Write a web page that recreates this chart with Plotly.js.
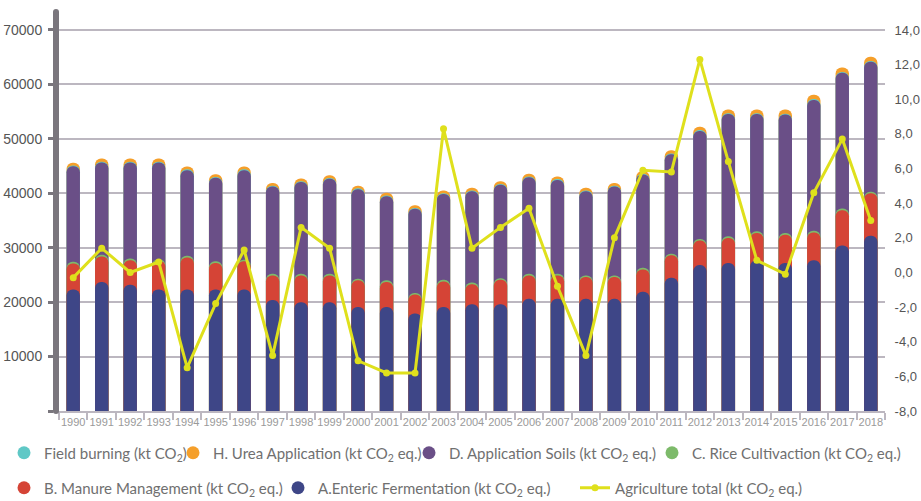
<!DOCTYPE html>
<html>
<head>
<meta charset="utf-8">
<script src="https://cdn.plot.ly/plotly-3.0.1.min.js"></script>
<style>
  html, body { margin: 0; padding: 0; background: #ffffff; }
  #chart { width: 921px; height: 501px; }
</style>
</head>
<body>
<div id="chart"></div>
<script>
// ---- data ----
var years = ["1990","1991","1992","1993","1994","1995","1996","1997","1998","1999",
             "2000","2001","2002","2003","2004","2005","2006","2007","2008","2009",
             "2010","2011","2012","2013","2014","2015","2016","2017","2018"];

var entericA = [22300,23700,23200,22300,22300,22300,22300,20400,20000,20000,
                19100,19100,17900,19100,19600,19600,20600,20600,20600,20600,
                21900,24500,26800,27200,27700,27200,27700,30400,32200];
var manureB  = [4800,4700,4500,5300,5900,4900,5200,4500,4900,4900,
                4900,4600,3500,4700,3700,4500,4300,4300,4000,4000,
                4100,4100,4500,4600,5000,5200,5100,6500,7800];
var riceC    = [300,300,300,300,300,300,300,300,300,300,
                300,300,300,300,300,300,300,300,300,300,
                300,300,300,300,300,300,300,300,300];
var soilsD   = [17550,16950,17650,17750,15750,15350,16450,16050,16850,17450,
                16450,15450,15450,15750,16750,17150,17750,17250,15450,16350,
                17150,18250,19850,22450,21550,21750,24050,24950,23850];
var fieldBurning = [150,150,150,150,150,150,150,150,150,150,
                    150,150,150,150,150,150,150,150,150,150,
                    150,150,150,150,150,150,150,150,150];
var ureaH    = [500,600,600,600,500,500,500,500,500,500,
                500,500,500,500,500,500,500,500,500,500,
                500,600,600,700,700,800,800,800,800];
var agriTotal = [-0.3,1.4,0.0,0.6,-5.5,-1.8,1.3,-4.8,2.6,1.4,
                 -5.1,-5.8,-5.8,8.3,1.4,2.6,3.7,-0.8,-4.8,2.0,
                 5.9,5.8,12.3,6.4,0.7,-0.1,4.6,7.7,3.0];

var leftTicks = [0,10000,20000,30000,40000,50000,60000,70000];
var leftTickText = ["","10000","20000","30000","40000","50000","60000","70000"];
var rightTicks = [-8,-6,-4,-2,0,2,4,6,8,10,12,14];
var rightTickText = ["-8,0","-6,0","-4,0","-2,0","0,0","2,0","4,0","6,0","8,0","10,0","12,0","14,0"];

var names = {
  fb: "Field burning (kt CO<sub>2</sub>)",
  h:  "H. Urea Application (kt CO<sub>2</sub> eq.)",
  d:  "D. Application Soils (kt CO<sub>2</sub> eq.)",
  c:  "C. Rice Cultivaction (kt CO<sub>2</sub> eq.)",
  b:  "B. Manure Management (kt CO<sub>2</sub> eq.)",
  a:  "A.Enteric Fermentation (kt CO<sub>2</sub> eq.)",
  t:  "Agriculture total (kt CO<sub>2</sub> eq.)"
};

var colors = {
  a: "#3e4687", b: "#d54436", c: "#7dba6a", d: "#6a4f87",
  fb: "#5fc8c6", h: "#f59f2a", t: "#dfe01c"
};

// cumulative stack tops (each segment drawn as a rounded pill from the base)
function cum(arrs) {
  return years.map(function (_, i) {
    var s = 0; arrs.forEach(function (a) { s += a[i]; }); return s;
  });
}
var topA = cum([entericA]);
var topB = cum([entericA, manureB]);
var topC = cum([entericA, manureB, riceC]);
var topD = cum([entericA, manureB, riceC, soilsD]);
var topFB = cum([entericA, manureB, riceC, soilsD, fieldBurning]);
var topH = cum([entericA, manureB, riceC, soilsD, fieldBurning, ureaH]);

// each segment on its own overlaid category axis so that every pill gets its rounded top
function barTrace(y, color, xa) {
  return { type: "bar", x: years, y: y, xaxis: xa, yaxis: "y",
           marker: { color: color, line: { width: 0 }, cornerradius: "50%" },
           showlegend: false, hoverinfo: "skip" };
}

var traces = [
  barTrace(topH, colors.h, "x"),
  barTrace(topFB, colors.fb, "x2"),
  barTrace(topD, colors.d, "x3"),
  barTrace(topC, colors.c, "x4"),
  barTrace(topB, colors.b, "x5"),
  barTrace(topA, colors.a, "x6"),
  { type: "scatter", mode: "lines+markers", x: years, y: agriTotal, xaxis: "x7", yaxis: "y2",
    line: { color: colors.t, width: 3 }, marker: { color: colors.t, size: 7 },
    name: names.t, legend: "legend7", showlegend: true, hoverinfo: "skip" }
];

function legendDummy(name, color, leg) {
  return { type: "scatter", mode: "markers", x: [null], y: [null], name: name,
           marker: { color: color, size: 13, symbol: "circle" }, legend: leg,
           showlegend: true, xaxis: "x", yaxis: "y", hoverinfo: "skip" };
}
traces.push(legendDummy(names.fb, colors.fb, "legend"));
traces.push(legendDummy(names.h, colors.h, "legend2"));
traces.push(legendDummy(names.d, colors.d, "legend3"));
traces.push(legendDummy(names.c, colors.c, "legend4"));
traces.push(legendDummy(names.b, colors.b, "legend5"));
traces.push(legendDummy(names.a, colors.a, "legend6"));

var plotL = 59, plotR = 885, plotT = 12, plotB = 411;
var plotW = plotR - plotL, plotH = plotB - plotT;
function pxX(x) { return (x - plotL) / plotW; }
function pxY(y) { return (plotB - y) / plotH; }
var legFont = { family: "Lato, 'Source Sans Pro', 'Open Sans', sans-serif", size: 15, color: "#707070" };
function leg(xpix, row) {
  return { orientation: "h", x: pxX(xpix), xanchor: "left", y: pxY(row === 1 ? 453 : 488),
           yanchor: "middle", font: legFont, bgcolor: "rgba(0,0,0,0)", borderwidth: 0,
           itemclick: false, itemdoubleclick: false };
}

var gridColor = "#bcb7c0";
var axisFont = "'Liberation Sans', Arial, sans-serif";
var catRange = [-0.5, 28.5];

function hiddenX() {
  return { type: "category", range: catRange, overlaying: "x", visible: false, fixedrange: true };
}

var layout = {
  width: 921, height: 501,
  margin: { l: plotL, r: 921 - plotR, t: plotT, b: 501 - plotB, pad: 0, autoexpand: false },
  paper_bgcolor: "#ffffff", plot_bgcolor: "#ffffff",
  barmode: "overlay", bargap: 0.53,
  showlegend: true,
  legend: leg(4, 1), legend2: leg(173, 1), legend3: leg(409, 1), legend4: leg(652, 1),
  legend5: leg(4, 2), legend6: leg(278, 2), legend7: leg(575, 2),
  xaxis: {
    type: "category", range: catRange, tickson: "boundaries",
    ticks: "outside", ticklen: 7, tickwidth: 2, tickcolor: gridColor,
    showline: true, linecolor: gridColor, linewidth: 2,
    showgrid: false, zeroline: false,
    tickfont: { family: axisFont, size: 11, color: "#9a9a9a" },
    tickangle: 0, fixedrange: true
  },
  xaxis2: hiddenX(), xaxis3: hiddenX(), xaxis4: hiddenX(),
  xaxis5: hiddenX(), xaxis6: hiddenX(), xaxis7: hiddenX(),
  yaxis: {
    range: [0, 73300], tickvals: leftTicks, ticktext: leftTickText,
    showgrid: true, gridcolor: gridColor, gridwidth: 2, zeroline: false,
    showline: true, linecolor: "#7a767d", linewidth: 6,
    ticks: "outside", ticklen: 5, tickwidth: 3, tickcolor: "#7a767d",
    ticklabelstandoff: 3,
    tickfont: { family: axisFont, size: 14, color: "#555555" }, fixedrange: true
  },
  yaxis2: {
    overlaying: "y", side: "right", range: [-8, 15.037], anchor: "x7",
    tickvals: rightTicks, ticktext: rightTickText,
    showgrid: false, zeroline: false, showline: false,
    ticks: "outside", ticklen: 6, tickcolor: "rgba(0,0,0,0)",
    tickfont: { family: axisFont, size: 13, color: "#555555" }, fixedrange: true
  },
  shapes: [
    { type: "circle", xref: "paper", yref: "paper", xsizemode: "pixel", ysizemode: "pixel",
      xanchor: 0, yanchor: 1, x0: -6, x1: 0, y0: -3, y1: 3,
      fillcolor: "#7a767d", line: { width: 0 }, layer: "above" },
    { type: "circle", xref: "paper", yref: "paper", xsizemode: "pixel", ysizemode: "pixel",
      xanchor: 0, yanchor: 0, x0: -6, x1: 0, y0: -3, y1: 3,
      fillcolor: "#7a767d", line: { width: 0 }, layer: "above" }
  ]
};

Plotly.newPlot("chart", traces, layout, { displayModeBar: false, staticPlot: true });
</script>
</body>
</html>
